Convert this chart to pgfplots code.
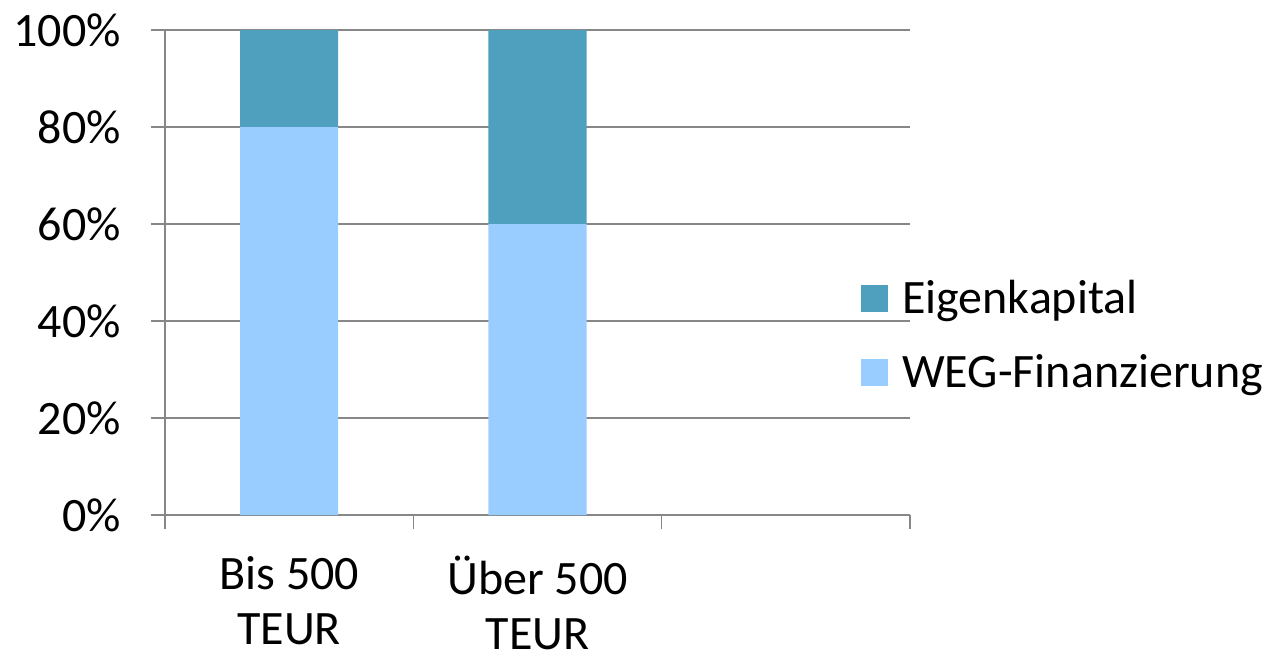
\documentclass[border=0pt]{standalone}
\usepackage{fontspec}
\setmainfont{Carlito}
\usepackage{pgfplots}
\pgfplotsset{compat=1.18}

\definecolor{ek}{HTML}{4F9FBF}
\definecolor{weg}{HTML}{99CCFF}
\definecolor{axgray}{HTML}{878787}

\begin{document}
\begin{tikzpicture}
\begin{axis}[
    scale only axis,
    width=372.5pt, height=242.5pt,
    ybar stacked,
    bar width=0.395,
    xmin=-0.5, xmax=2.5,
    ymin=0, ymax=100,
    axis lines=left,
    axis line style={-, draw=axgray, line width=0.75pt},
    tick align=outside,
    tick style={draw=axgray, line width=0.75pt},
    major tick length=7pt,
    xtick={-0.5,0.5,1.5,2.5},
    xticklabels={},
    extra x ticks={0,1},
    extra x tick labels={Bis 500\\TEUR, Über 500\\TEUR},
    extra x tick style={major tick length=0pt},
    xticklabel style={align=center, inner sep=0pt, yshift=-20.5pt},
    ytick={0,20,40,60,80,100},
    yticklabels={0\%,20\%,40\%,60\%,80\%,100\%},
    yticklabel style={xshift=-11.5pt},
    ymajorgrids,
    grid style={draw=axgray, line width=0.75pt},
    font=\fontsize{24}{27.5}\selectfont,
    reverse legend,
    legend style={at={(rel axis cs:0.934,0.485)}, anchor=north west,
        draw=none, fill=none, inner sep=0pt,
        row sep=19pt,
        nodes={inner sep=0pt}},
    legend cell align=left,
]
% WEG-Finanzierung (unten)
\addplot[fill=weg, draw=none,
    legend image code/.code={\fill[weg] (0pt,-6.75pt) rectangle (13.5pt,6.75pt);
        \path (20.5pt,0pt);}]
    coordinates {(0,80) (1,60)};
\addlegendentry{WEG-Finanzierung}
% Eigenkapital (oben)
\addplot[fill=ek, draw=none,
    legend image code/.code={\fill[ek] (0pt,-6.75pt) rectangle (13.5pt,6.75pt);
        \path (20.5pt,0pt);}]
    coordinates {(0,20) (1,40)};
\addlegendentry{Eigenkapital}
\end{axis}
\pgfresetboundingbox
\useasboundingbox (-82.5pt,-69.5pt) rectangle (551.5pt,257.5pt);
\end{tikzpicture}
\end{document}
